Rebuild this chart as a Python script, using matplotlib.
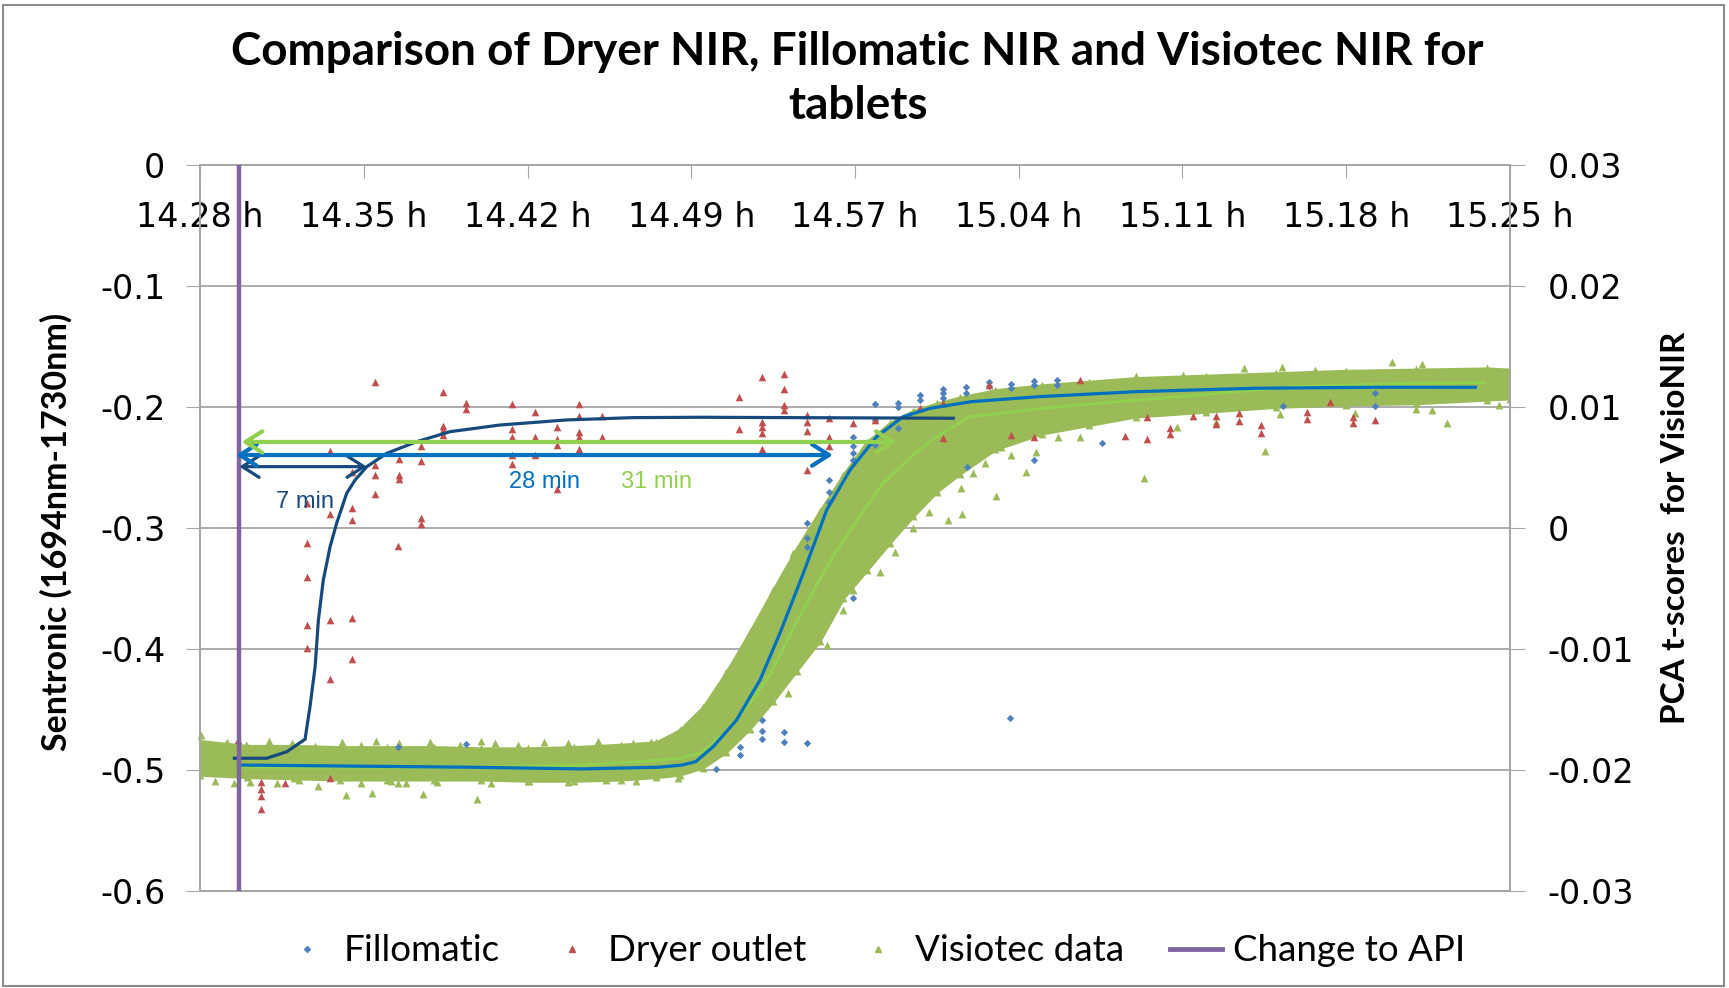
import matplotlib
matplotlib.use("Agg")
import matplotlib.pyplot as plt
from matplotlib.lines import Line2D
from matplotlib.patches import Rectangle

plt.rcParams["axes.unicode_minus"] = False

# x positions are minutes after 14:28
x_ticks = [0, 7, 14, 21, 28, 35, 42, 49, 56]
x_labels = ["14.28 h", "14.35 h", "14.42 h", "14.49 h", "14.57 h",
            "15.04 h", "15.11 h", "15.18 h", "15.25 h"]
left_ticks = [0, -0.1, -0.2, -0.3, -0.4, -0.5, -0.6]
left_labels = ["0", "-0.1", "-0.2", "-0.3", "-0.4", "-0.5", "-0.6"]
right_ticks = [0.03, 0.02, 0.01, 0, -0.01, -0.02, -0.03]
right_labels = ["0.03", "0.02", "0.01", "0", "-0.01", "-0.02", "-0.03"]

api_change = 1.68

# Dryer outlet (Sentronic, left axis)
dryer_x = [7.48, 10.40, 11.36, 11.36, 13.35, 14.32, 16.21, 16.21, 17.20, 10.40,
           10.40, 10.40, 13.35, 15.27, 16.21, 16.21, 13.35, 14.32, 15.27, 15.27,
           17.20, 16.21, 9.43, 5.56, 13.35, 14.32, 8.49, 9.43, 13.35, 7.48,
           6.51, 7.48, 8.49, 8.49, 7.48, 15.27, 4.59, 5.56, 6.51, 6.51,
           9.43, 9.43, 8.48, 4.59, 4.59, 4.59, 5.56, 6.51, 4.59, 6.51,
           5.56, 1.64, 5.56, 2.62, 2.62, 2.62, 2.62, 3.63, 23.05, 23.05,
           24.02, 24.02, 24.02, 24.02, 24.02, 24.98, 24.98, 24.98, 24.98, 25.94,
           25.94, 25.94, 25.94, 26.90, 26.90, 26.90, 27.90, 28.87, 33.73, 37.61,
           31.75, 30.77, 39.56, 40.50, 40.50, 41.47, 41.47, 42.47, 43.44, 43.44,
           44.41, 44.41, 45.36, 45.36, 47.33, 47.33, 48.31, 49.28, 49.28, 50.21,
           35.67, 34.66, 31.78]
dryer_y = [-0.1791, -0.1874, -0.1965, -0.2017, -0.1978, -0.2044, -0.1975, -0.2072, -0.2072, -0.2157,
           -0.2190, -0.2231, -0.2179, -0.2168, -0.2204, -0.2250, -0.2250, -0.2245, -0.2264, -0.2314,
           -0.2245, -0.2350, -0.2322, -0.2366, -0.2397, -0.2394, -0.2432, -0.2444, -0.2474, -0.2479,
           -0.2535, -0.2562, -0.2564, -0.2593, -0.2719, -0.2680, -0.2796, -0.2884, -0.2837, -0.2934,
           -0.2920, -0.2967, -0.3146, -0.3121, -0.3407, -0.3802, -0.3760, -0.3746, -0.3989, -0.4083,
           -0.4248, -0.4752, -0.5064, -0.5102, -0.5160, -0.5215, -0.5325, -0.5105, -0.1915, -0.2184,
           -0.1750, -0.2122, -0.2163, -0.2217, -0.2350, -0.1727, -0.1851, -0.1983, -0.2025, -0.2066,
           -0.2122, -0.2196, -0.2521, -0.2093, -0.2250, -0.2322, -0.2135, -0.2107, -0.1818, -0.1777,
           -0.1969, -0.2011, -0.2237, -0.2262, -0.2085, -0.2176, -0.2223, -0.2074, -0.2074, -0.2140,
           -0.2052, -0.2116, -0.2149, -0.2212, -0.2039, -0.2102, -0.1956, -0.2080, -0.2130, -0.2107,
           -0.2245, -0.2231, -0.2259]

# Fillomatic (Sentronic, left axis) - visible points
fillo_x = [28.87, 28.87, 29.83, 29.83, 30.78, 30.78, 31.75, 31.75, 31.75, 27.90,
           27.90, 27.90, 27.90, 26.90, 26.90, 26.90, 25.94, 25.94, 25.94, 28.87,
           29.83, 32.76, 32.76, 33.73, 33.73, 34.69, 34.69, 35.67, 35.67, 36.62,
           36.62, 38.58, 35.67, 32.80, 46.29, 50.21, 50.21, 27.93, 23.08, 23.08,
           24.01, 24.01, 24.01, 24.98, 24.98, 25.94, 22.06, 34.63, 8.47, 11.37]
fillo_y = [-0.1978, -0.2107, -0.1969, -0.1998, -0.1901, -0.1942, -0.1854, -0.1887, -0.1928, -0.2250,
           -0.2322, -0.2383, -0.2438, -0.2603, -0.2700, -0.2783, -0.2956, -0.3085, -0.3160, -0.2314,
           -0.2176, -0.1837, -0.1887, -0.1791, -0.1826, -0.1810, -0.1845, -0.1783, -0.1818, -0.1777,
           -0.1818, -0.2300, -0.2438, -0.2493, -0.1992, -0.1887, -0.1992, -0.3576, -0.4807, -0.4876,
           -0.4587, -0.4678, -0.4744, -0.4684, -0.4766, -0.4774, -0.4994, -0.4570, -0.4807, -0.4785]

# Visiotec data (PCA t-scores, right axis): dense band read as envelope + loose points
visio_band_x = [0, 2, 4, 6, 8, 10, 12, 14, 16, 18, 19.5, 20.5, 21.5, 22.5, 23.5, 24.5, 25.5,
                26.5, 27.5, 28.5, 29.5, 30.5, 31.5, 32.5, 34, 36, 38, 40, 43, 46, 49, 52, 55, 56]
visio_band_hi = [-0.0176, -0.0180, -0.0180, -0.0181, -0.0181, -0.0181, -0.0182, -0.0182, -0.0181,
                 -0.0179, -0.0177, -0.0167, -0.0148, -0.0119, -0.0086, -0.0051, -0.0017, 0.0014,
                 0.0044, 0.0071, 0.0087, 0.0097, 0.0103, 0.0108, 0.0114, 0.0118, 0.0121, 0.0124,
                 0.0126, 0.0128, 0.0130, 0.0131, 0.0132, 0.0131]
visio_band_lo = [-0.0204, -0.0206, -0.0207, -0.0208, -0.0208, -0.0208, -0.0208, -0.0209, -0.0209,
                 -0.0208, -0.0206, -0.0204, -0.0198, -0.0185, -0.0166, -0.0143, -0.0118, -0.0093,
                 -0.0058, -0.0035, -0.0012, 0.0010, 0.0030, 0.0045, 0.0065, 0.0078, 0.0085, 0.0092,
                 0.0096, 0.0100, 0.0102, 0.0103, 0.0106, 0.0107]
# ragged edges of the flat part of the band
visio_edge_x = [1.15, 1.96, 2.94, 3.93, 4.91, 6.05, 6.87, 7.53, 8.51, 9.82, 11.12, 12.02, 12.6,
                13.58, 14.72, 15.71, 17.01, 18.49, 19.3, 20.45,
                0.65, 2.13, 4.25, 6.87, 8.18, 10.14, 12.43, 14.07, 15.71, 17.34, 18.65, 20.45]
visio_edge_y = [-0.0177, -0.0179, -0.0176, -0.0178, -0.0180, -0.0177, -0.0179, -0.0176, -0.0178,
                -0.0177, -0.0179, -0.0176, -0.0178, -0.0179, -0.0177, -0.0178, -0.0176, -0.0178,
                -0.0177, -0.0175,
                -0.0209, -0.0210, -0.0208, -0.0211, -0.0209, -0.0210, -0.0211, -0.0209, -0.0210,
                -0.0208, -0.0209, -0.0207]
visio_x = [1.44, 3.27, 5.04, 6.23, 7.36, 8.46, 8.80, 9.54, 11.85,
           0.04, 20.4, 21.1, 21.6, 22.05,
           23.51, 23.58, 24.01, 24.29, 24.72, 24.94, 25.36, 25.58, 25.94,
           26.79, 25.15, 29.07, 29.71, 30.49, 31.18, 31.99, 32.56, 27.50, 27.93,
           30.10, 30.77, 31.61, 32.54, 32.29, 33.05, 33.56, 34.01, 34.23, 34.66,
           35.33, 35.75, 36.69, 37.63, 40.37, 41.76, 43.44, 45.51, 46.15, 49.36,
           51.98, 52.66, 53.30, 55.53,
           40.03, 42.01, 44.63, 46.24, 47.67, 50.97, 52.24]
visio_y = [-0.0211, -0.0211, -0.0213, -0.0221, -0.0219, -0.0211, -0.0211, -0.0220, -0.0224,
           -0.0171, -0.0175, -0.01655, -0.01627, -0.01435,
           -0.00994, -0.00926, -0.00774, -0.00719, -0.00568, -0.00444, -0.00209, -0.0025, -0.00044,
           -0.00967, -0.01366, -0.00361, -0.00196, -0.00003, 0.00135, 0.00066, 0.00116, -0.00678, -0.00512,
           0.00093, 0.00259, 0.00397, 0.00328, 0.00576, 0.00452, 0.00534, 0.00264, 0.00672, 0.00603,
           0.00465, 0.00631, 0.00755, 0.0075, 0.00416, 0.00837, 0.00879, 0.00636, 0.00942, 0.00948,
           0.00981, 0.00975, 0.0087, 0.01017,
           0.01256, 0.01264, 0.0132, 0.01333, 0.01306, 0.01375, 0.01355]

# fitted trend lines
dryer_fit_x = [1.47, 2.85, 3.71, 4.49, 4.70, 4.92, 5.06, 5.27, 5.56, 5.84, 6.27, 6.63, 7.13,
               7.98, 9.26, 10.69, 12.82, 15.68, 18.51, 21.37, 32.2]
dryer_fit_y = [-0.4903, -0.4903, -0.4849, -0.4746, -0.4477, -0.4146, -0.3760, -0.3430, -0.3154,
               -0.2961, -0.2713, -0.2603, -0.2493, -0.2383, -0.2287, -0.2204, -0.2149, -0.2107,
               -0.2088, -0.2085, -0.2093]
fillo_fit_x = [1.64, 11.45, 16.36, 19.63, 20.61, 21.19, 21.94, 22.94, 23.94, 24.79, 25.79, 26.79,
               27.79, 28.93, 30.06, 31.21, 32.97, 35.84, 40.07, 45.14, 50.21, 54.52]
fillo_fit_y = [-0.4959, -0.4977, -0.4991, -0.4977, -0.4959, -0.4931, -0.4807, -0.4586, -0.4256,
               -0.3870, -0.3374, -0.2851, -0.2520, -0.2245, -0.2080, -0.2011, -0.1956, -0.1915,
               -0.1873, -0.1845, -0.1837, -0.1837]
visio_fit_x = [1.64, 12.0, 16.4, 19.6, 20.5, 21.4, 22.4, 23.4, 24.4, 25.4, 26.4, 27.2, 28.1,
               29.2, 30.4, 31.5, 32.9, 36.7, 41.8, 46.8, 51.9, 54.9]
visio_fit_y = [-0.01977, -0.01977, -0.0196, -0.0192, -0.01903, -0.01862, -0.01697, -0.01477,
               -0.01201, -0.00815, -0.00457, -0.0019, 0.00066, 0.0037, 0.00589, 0.00755, 0.0092,
               0.01003, 0.01085, 0.01168, 0.01196, 0.01201]

# delay arrows (left axis units)
arrow_labels = ["7 min", "28 min", "31 min"]
arrow_start = [1.68, 1.54, 1.78]
arrow_end = [7.13, 27.05, 29.78]
arrow_level = [-0.2493, -0.2397, -0.2289]
label_x = [4.49, 14.73, 19.52]
label_y = [-0.2785, -0.2617, -0.2617]
arrow_colors = ["#174A7C", "#0070C0", "#92D050"]
arrow_widths = [2.3, 3.0, 3.0]

C_FILLO = "#4F81BD"
C_DRYER = "#C0504D"
C_VISIO = "#9BBB59"
C_API = "#8064A2"
GRID = "#A6A6A6"

fig = plt.figure(figsize=(17.29, 9.88), dpi=100)
ax = fig.add_axes([0.1157, 0.0982, 0.7576, 0.7348])
ax_l = ax.twinx()
ax_l.set_zorder(ax.get_zorder() + 1)
ax_l.patch.set_visible(False)

# right axis: Visiotec
ax.fill_between(visio_band_x, visio_band_lo, visio_band_hi, color=C_VISIO, lw=2.0,
                edgecolor=C_VISIO, zorder=2)
ax.scatter(visio_band_x, visio_band_hi, marker="^", s=32, color=C_VISIO, lw=0, zorder=2)
ax.scatter(visio_band_x, visio_band_lo, marker="^", s=32, color=C_VISIO, lw=0, zorder=2)
ax.scatter(visio_edge_x, visio_edge_y, marker="^", s=32, color=C_VISIO, lw=0, zorder=2)
ax.scatter(visio_x, visio_y, marker="^", s=32, color=C_VISIO, lw=0, zorder=2, clip_on=False)
ax.plot(visio_fit_x, visio_fit_y, color="#92D050", lw=2.2, zorder=3)

ax.set_xlim(0, 56)
ax.set_ylim(-0.03, 0.03)
ax.set_yticks(right_ticks)
ax.set_yticklabels(right_labels)
ax.yaxis.tick_right()
ax.yaxis.set_label_position("right")
ax.grid(axis="y", color=GRID, lw=1.3)
ax.set_axisbelow(True)
ax.xaxis.set_ticks_position("top")
ax.set_xticks(x_ticks)
ax.set_xticklabels(x_labels)
ax.tick_params(axis="x", direction="in", length=9, color=GRID, labelsize=24, pad=-50)
ax.tick_params(axis="y", direction="out", length=11, color=GRID, labelsize=24, pad=16)
ax.set_ylabel("PCA t-scores  for VisioNIR", family="Lato", fontweight="bold", fontsize=24)
ax.yaxis.set_label_coords(1.115, 0.5)

# left axis: Sentronic data
ax_l.scatter(fillo_x, fillo_y, marker="D", s=14, color=C_FILLO, lw=0, zorder=3)
ax_l.scatter(dryer_x, dryer_y, marker="^", s=30, color=C_DRYER, lw=0, zorder=3)
ax_l.plot(fillo_fit_x, fillo_fit_y, color="#0070C0", lw=2.3, zorder=4)
ax_l.plot(dryer_fit_x, dryer_fit_y, color="#174A7C", lw=2.3, zorder=4)
ax_l.axvline(api_change, color=C_API, lw=3.2, zorder=5)

for i in range(len(arrow_labels)):
    ax_l.annotate("", xy=(arrow_end[i], arrow_level[i]), xytext=(arrow_start[i], arrow_level[i]),
                  arrowprops=dict(arrowstyle="<->,head_length=0.55,head_width=0.35",
                                  color=arrow_colors[i], lw=arrow_widths[i], mutation_scale=22,
                                  shrinkA=0, shrinkB=0), zorder=6)
    ax_l.text(label_x[i], label_y[i], arrow_labels[i], color=arrow_colors[i], fontsize=17,
              family="Liberation Sans", ha="center", va="center", zorder=6)

ax_l.set_ylim(-0.6, 0)
ax_l.set_yticks(left_ticks)
ax_l.set_yticklabels(left_labels)
ax_l.yaxis.tick_left()
ax_l.yaxis.set_label_position("left")
ax_l.tick_params(axis="y", direction="out", length=10, color=GRID, labelsize=24, pad=15)
ax_l.set_ylabel("Sentronic (1694nm-1730nm)", family="Lato", fontweight="bold", fontsize=24.5)
ax_l.yaxis.set_label_coords(-0.097, 0.494)

for a in (ax, ax_l):
    for s in a.spines.values():
        s.set_color(GRID)
        s.set_linewidth(1.3)

fig.text(0.496, 0.92, "Comparison of Dryer NIR, Fillomatic NIR and Visiotec NIR for\ntablets",
         ha="center", va="center", family="Lato", fontweight="bold", fontsize=33, linespacing=1.33)

handles = [
    Line2D([], [], ls="none", marker="D", ms=3, color=C_FILLO, label="Fillomatic"),
    Line2D([], [], ls="none", marker="^", ms=4, color=C_DRYER, label="Dryer outlet"),
    Line2D([], [], ls="none", marker="^", ms=4, color=C_VISIO, label="Visiotec data"),
    Line2D([], [], color=C_API, lw=3.5, label="Change to API"),
]
fig.legend(handles=handles, loc="center", bbox_to_anchor=(0.505, 0.0375), ncol=4,
           frameon=False, prop={"family": "Lato", "size": 26.5}, handlelength=1.4,
           handletextpad=0.3, columnspacing=1.25)

fig.add_artist(Rectangle((0.002, 0.002), 0.995, 0.993, transform=fig.transFigure,
                         fill=False, ec="#8C8C8C", lw=1.5))

fig.savefig("out.png", dpi=100)
